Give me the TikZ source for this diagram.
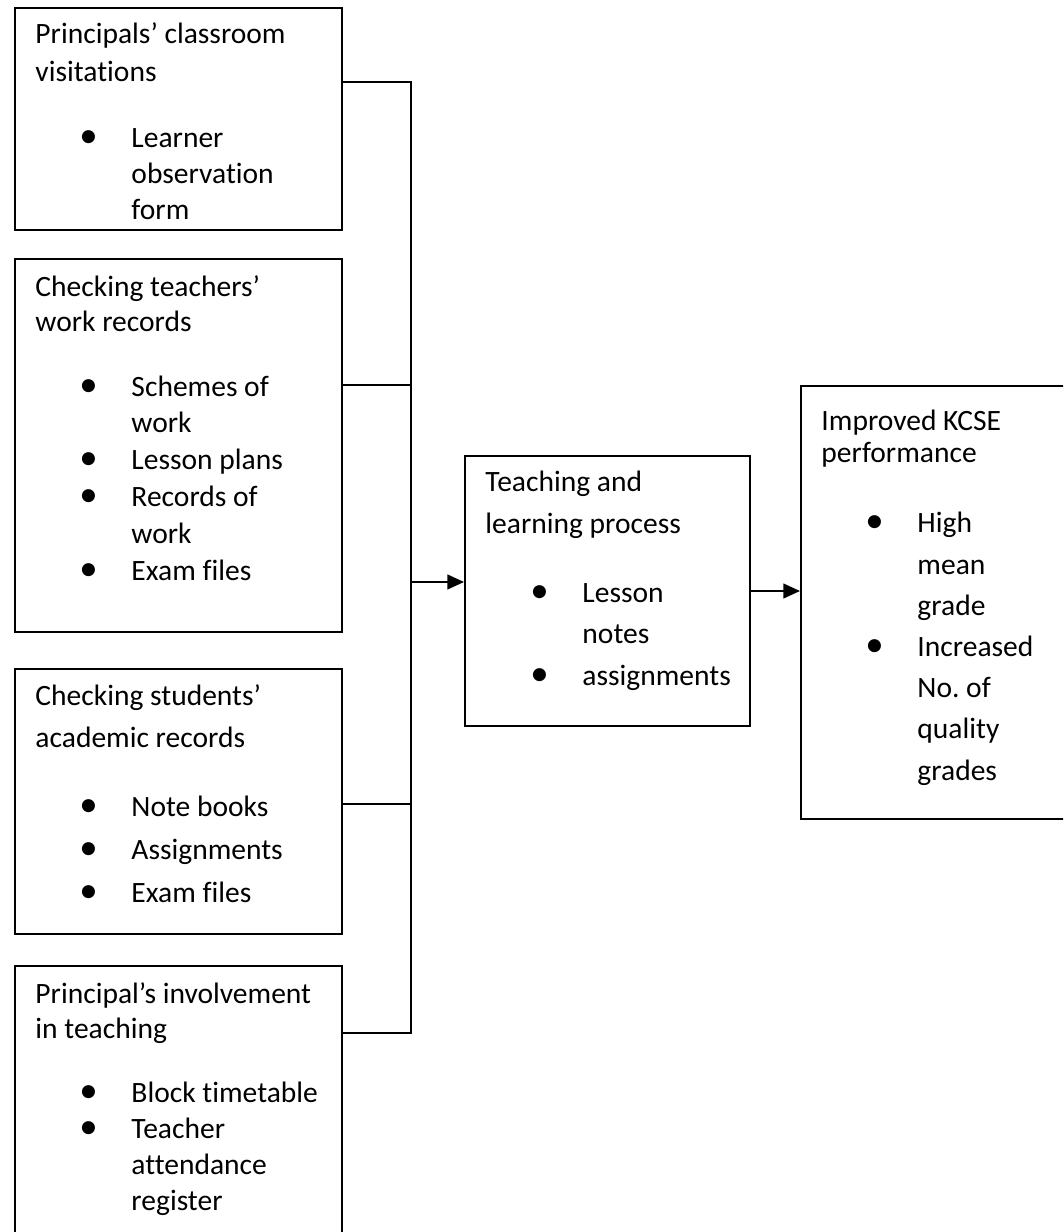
\documentclass[tikz,border=0pt]{standalone}
\usepackage{fontspec}
\setmainfont{Carlito}[Ligatures={TeX,NoCommon}]
\usepackage{tikz}
\usetikzlibrary{arrows.meta,positioning,calc}
\newdimen\pxu \pxu=0.42pt
\newcommand{\blt}{\leavevmode\llap{\makebox[36pt][c]{\fontsize{15.5}{0}\selectfont\textbullet}}}
\tikzset{
  box/.style={draw, line width=0.84pt, inner sep=0pt, anchor=north west},
  head/.style={anchor=base west, align=left, inner sep=0pt,
    font={\fontsize{12.4}{#1}\selectfont}},
  link/.style={line width=0.84pt},
  arr/.style={link, -{Triangle[length=7pt,width=6.2pt]}}
}

\begin{document}
\begin{tikzpicture}[x=0.42pt, y=-0.42pt]
  \useasboundingbox (0,0) rectangle (1063,1232);
  \clip (0,0) rectangle (1063,1232);
  % input boxes
  \node[box, minimum width=327\pxu, minimum height=222\pxu] (visit) at (14,7) {};
  \node[box, minimum width=327\pxu, minimum height=373\pxu] (workrec) at (14,258) {};
  \node[box, minimum width=327\pxu, minimum height=265\pxu] (sturec) at (14,668) {};
  \node[box, minimum width=327\pxu, minimum height=290\pxu] (involve) at (14,965) {};
  % process and outcome
  \node[box, minimum width=285\pxu, minimum height=270\pxu] (process) at (464,455) {};
  \node[box, minimum width=280\pxu, minimum height=433\pxu] (kcse) at (800,385) {};

  % texts, placed by the baseline of their last line
  \node[head=16pt] (visitHead) at (35,82) {Principals’ classroom\\visitations};
  \node[head=15.3pt] (visitList) at (131,220) {\blt Learner\\observation\\form};

  \node[head=15pt] (workrecHead) at (35,332) {Checking teachers’\\work records};
  \node[head=15.45pt] (workrecList) at (131,580)
    {\blt Schemes of\\work\\\blt Lesson plans\\\blt Records of\\work\\\blt Exam files};

  \node[head=17.6pt] (sturecHead) at (35,747) {Checking students’\\academic records};
  \node[head=18pt] (sturecList) at (131,902) {\blt Note books\\\blt Assignments\\\blt Exam files};

  \node[head=14.7pt] (involveHead) at (35,1038) {Principal’s involvement\\in teaching};
  \node[head=15pt] (involveList) at (131,1210)
    {\blt Block timetable\\\blt Teacher\\attendance\\register};

  \node[head=17.6pt] (processHead) at (485,533) {Teaching and\\learning process};
  \node[head=17.4pt] (processList) at (582,685) {\blt Lesson\\notes\\\blt assignments};

  \node[head=13.5pt] (kcseHead) at (821,463) {Improved KCSE\\performance};
  \node[head=17.3pt] (kcseList) at (917,780)
    {\blt High\\mean\\grade\\\blt Increased\\No.\ of\\quality\\grades};

  % connectors
  \coordinate (spineTop) at (411,82);
  \coordinate (joinWork) at (411,385);
  \coordinate (joinStu) at (411,804);
  \coordinate (spineEnd) at (411,1033);
  \coordinate (feed) at (411,582);
  \draw[link] (visit.east |- spineTop) -- (spineTop) -- (spineEnd) -- (involve.east |- spineEnd);
  \draw[link] (workrec.east |- joinWork) -- (joinWork);
  \draw[link] (sturec.east |- joinStu) -- (joinStu);
  \draw[arr] (feed) -- (process.west |- feed);
  \draw[arr] (process.east) -- (kcse.west |- process.east);
\end{tikzpicture}
\end{document}
